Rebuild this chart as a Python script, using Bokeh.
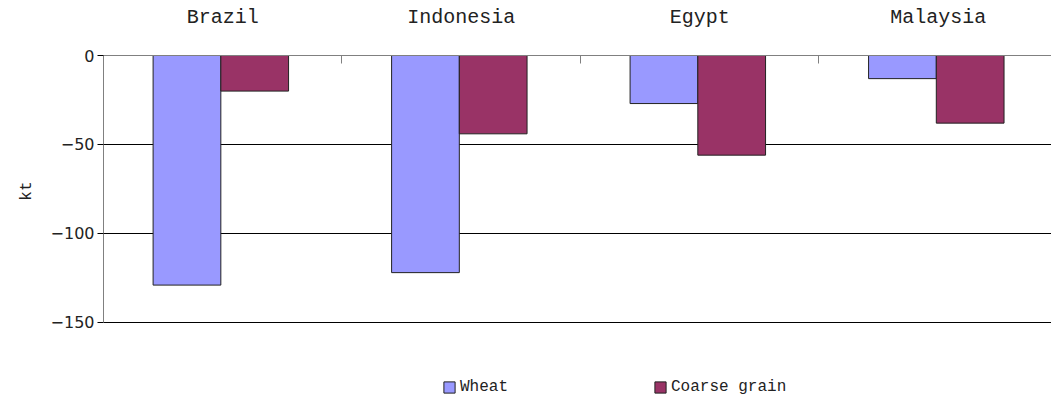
from bokeh.plotting import figure
from bokeh.models import ColumnDataSource, FixedTicker, LinearAxis, Legend, LegendItem, Range1d, Title
from bokeh.embed import file_html
from bokeh.resources import INLINE

countries = ["Brazil", "Indonesia", "Egypt", "Malaysia"]
wheat = [-129, -122, -27, -13]
coarse = [-20, -44, -56, -38]
y_ticks = [-150, -100, -50, 0]
series_names = ["Wheat", "Coarse grain"]
colors = ["#9999FF", "#993366"]
y_title = "kt"

centers = [i + 0.5 for i in range(len(countries))]
bounds = list(range(len(countries) + 1))
bw = 0.284
shift = -0.008
src = ColumnDataSource(dict(
    xw=[c - bw / 2 + shift for c in centers],
    xc=[c + bw / 2 + shift for c in centers],
    wheat=wheat, coarse=coarse, zero=[0] * len(countries)))

# frame spans from the zero line down to the bottom of the picture;
# the value axis itself is bounded to [-150, 0]
p = figure(width=1051, height=401, output_backend="svg", toolbar_location=None,
           x_range=Range1d(0, 3.975), y_range=Range1d(-194.4, 0),
           x_axis_location=None, y_axis_location="left",
           min_border_left=103, min_border_top=55, min_border_bottom=0, min_border_right=0)
p.outline_line_color = None
p.background_fill_color = "white"
p.border_fill_color = "white"

rw = p.vbar(x="xw", width=bw, top="zero", bottom="wheat", source=src,
            fill_color=colors[0], line_color="#222222", line_width=1)
rc = p.vbar(x="xc", width=bw, top="zero", bottom="coarse", source=src,
            fill_color=colors[1], line_color="#222222", line_width=1)

# grid
p.xgrid.visible = False
p.ygrid.ticker = FixedTicker(ticks=y_ticks[:-1])
p.ygrid.grid_line_color = "#000000"
p.ygrid.grid_line_width = 1

# y axis
ya = p.yaxis[0]
ya.ticker = FixedTicker(ticks=y_ticks)
ya.bounds = (y_ticks[0], y_ticks[-1])
ya.axis_line_color = "#808080"
ya.major_tick_line_color = "#000000"
ya.major_tick_in = 0
ya.major_tick_out = 6
ya.minor_tick_line_color = None
ya.major_label_text_font = "DejaVu Sans"
ya.major_label_text_font_size = "16px"
ya.major_label_text_color = "#222222"
ya.major_label_standoff = 3

# y title, placed at the middle of the bounded axis
t = Title(text=y_title, align="right", offset=126, standoff=24,
          text_font="Liberation Mono", text_font_size="16px",
          text_font_style="normal", text_color="#222222")
p.add_layout(t, "left")

# top category axis
xa = LinearAxis(ticker=FixedTicker(ticks=centers, minor_ticks=bounds),
                major_label_overrides={c: n for c, n in zip(centers, countries)})
xa.axis_line_color = "#808080"
xa.major_tick_line_color = None
xa.major_tick_in = 0
xa.major_tick_out = 0
xa.minor_tick_line_color = "#808080"
xa.minor_tick_in = 8
xa.minor_tick_out = 0
xa.major_label_text_font = "Liberation Mono"
xa.major_label_text_font_size = "20px"
xa.major_label_text_color = "#222222"
xa.major_label_standoff = 27
p.add_layout(xa, "above")

legend = Legend(items=[LegendItem(label=series_names[0], renderers=[rw]),
                       LegendItem(label=series_names[1], renderers=[rc])],
                orientation="horizontal", location=(339, 5),
                glyph_width=14, glyph_height=14, label_standoff=4,
                label_text_font="Liberation Mono", label_text_font_size="16px",
                label_text_color="#222222", spacing=145, padding=0, margin=0,
                border_line_color=None, background_fill_alpha=0)
p.add_layout(legend, "center")

open("out.html", "w").write(file_html(p, INLINE))
